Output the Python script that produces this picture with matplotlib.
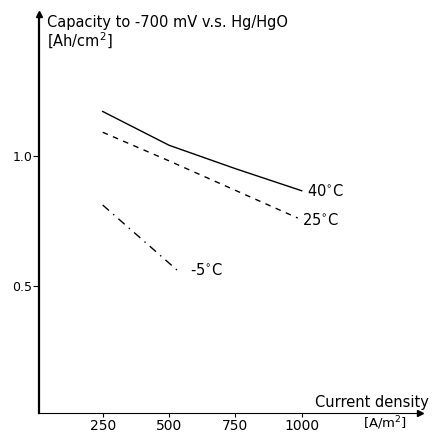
import numpy as np
import matplotlib.pyplot as plt

# values
current = [250, 500, 750, 1000]
cap_40 = [1.17, 1.04, 0.95, 0.865]
current_25 = [250, 500, 985]
cap_25 = [1.09, 0.98, 0.76]
current_m5 = [250, 530]
cap_m5 = [0.81, 0.56]
xticks = [250, 500, 750, 1000]
yticks = [0.5, 1.0]

fig = plt.figure(figsize=(4.44, 4.33), dpi=100)
ax = fig.add_axes([0.0885, 0.0462, 0.946 - 0.0885, 0.9677 - 0.0462])

ax.plot(current, cap_40, color='black', lw=1.0)
ax.plot(current_25, cap_25, color='black', lw=1.0, dashes=(4, 4))
ax.plot(current_m5, cap_m5, color='black', lw=1.0, dashes=(6, 4, 1, 4))

ax.text(1020, 0.864, '40$^{\\circ}$C', fontsize=10.5, va='center', ha='left')
ax.text(1000, 0.753, '25$^{\\circ}$C', fontsize=10.5, va='center', ha='left')
ax.text(579, 0.56, '-5$^{\\circ}$C', fontsize=10.5, va='center', ha='left')

ax.set_xlim(11, 1446)
ax.set_ylim(0.01, 1.545)
ax.set_xticks(xticks)
ax.set_xticklabels([str(t) for t in xticks], fontsize=10)
ax.set_yticks(yticks)
ax.set_yticklabels([str(t) for t in yticks], fontsize=9)
ax.tick_params(axis='x', direction='out', length=3, pad=1, width=0.8)
ax.tick_params(axis='y', direction='out', length=4, pad=1, width=0.8)

for s in ['top', 'right']:
    ax.spines[s].set_visible(False)
ax.spines['left'].set_linewidth(1.6)
ax.spines['bottom'].set_linewidth(0.8)

# axis arrows
ax.plot(1, 0, '>', color='black', markersize=5, transform=ax.transAxes, clip_on=False)
ax.plot(0, 1, '^', color='black', markersize=5, transform=ax.transAxes, clip_on=False)

fig.text(47 / 444, 1 - 22 / 433, 'Capacity to -700 mV v.s. Hg/HgO', fontsize=10.5, va='center', ha='left')
fig.text(47 / 444, 1 - 41 / 433, '[Ah/cm$^2$]', fontsize=10.5, va='center', ha='left')
fig.text(315 / 444, 1 - 402 / 433, 'Current density', fontsize=10.5, va='center', ha='left')
fig.text(363 / 444, 1 - 423 / 433, '[A/m$^2$]', fontsize=9.5, va='center', ha='left')

plt.savefig('out.png', dpi=100)
